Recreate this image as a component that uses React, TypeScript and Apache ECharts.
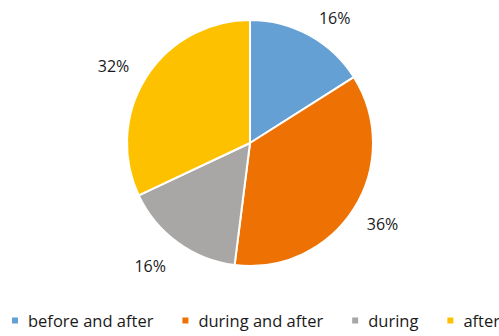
import React, { useEffect, useRef } from "react";
import * as echarts from "echarts";

const categories = ["before and after", "during and after", "during", "after"];
const shares = [16, 36, 16, 32];
const colors = ["#64A0D4", "#EE7203", "#A9A6A6", "#FDC100"];

const FONT = "'Open Sans', 'Noto Sans', sans-serif";

export default function App() {
  const ref = useRef<HTMLDivElement>(null);

  useEffect(() => {
    if (!ref.current) return;
    const chart = echarts.init(ref.current, undefined, { renderer: "svg" });
    chart.setOption({
      animation: false,
      backgroundColor: "#ffffff",
      color: colors,
      legend: {
        data: categories,
        left: 10,
        top: 312,
        width: 600,
        padding: 0,
        icon: "rect",
        itemWidth: 8,
        itemHeight: 8,
        itemGap: 27,
        textStyle: {
          fontSize: 16.5,
          color: "#1a1a1a",
          fontFamily: FONT,
          padding: [0, 0, 0, 4],
        },
      },
      series: [
        {
          type: "pie",
          center: [250, 143],
          radius: 123,
          startAngle: 90,
          clockwise: true,
          avoidLabelOverlap: false,
          itemStyle: { borderColor: "#ffffff", borderWidth: 2 },
          label: {
            show: true,
            position: "outside",
            formatter: "{c}%",
            fontSize: 16,
            color: "#1a1a1a",
            fontFamily: FONT,
            distanceToLabelLine: 0,
          },
          labelLine: { show: false, length: 20, length2: 0 },
          labelLayout: (p: any) => {
            // nudge the lower labels a little further from the rim
            if (p.dataIndex === 1) return { dx: -4, dy: 4 };
            if (p.dataIndex === 2) return { dy: 7 };
            return {};
          },
          emphasis: { disabled: true },
          data: categories.map((name, i) => ({ name, value: shares[i] })),
        },
      ],
    });
    return () => chart.dispose();
  }, []);

  return (
    <div
      ref={ref}
      style={{ position: "fixed", left: 0, top: 0, width: 499, height: 336 }}
    />
  );
}
